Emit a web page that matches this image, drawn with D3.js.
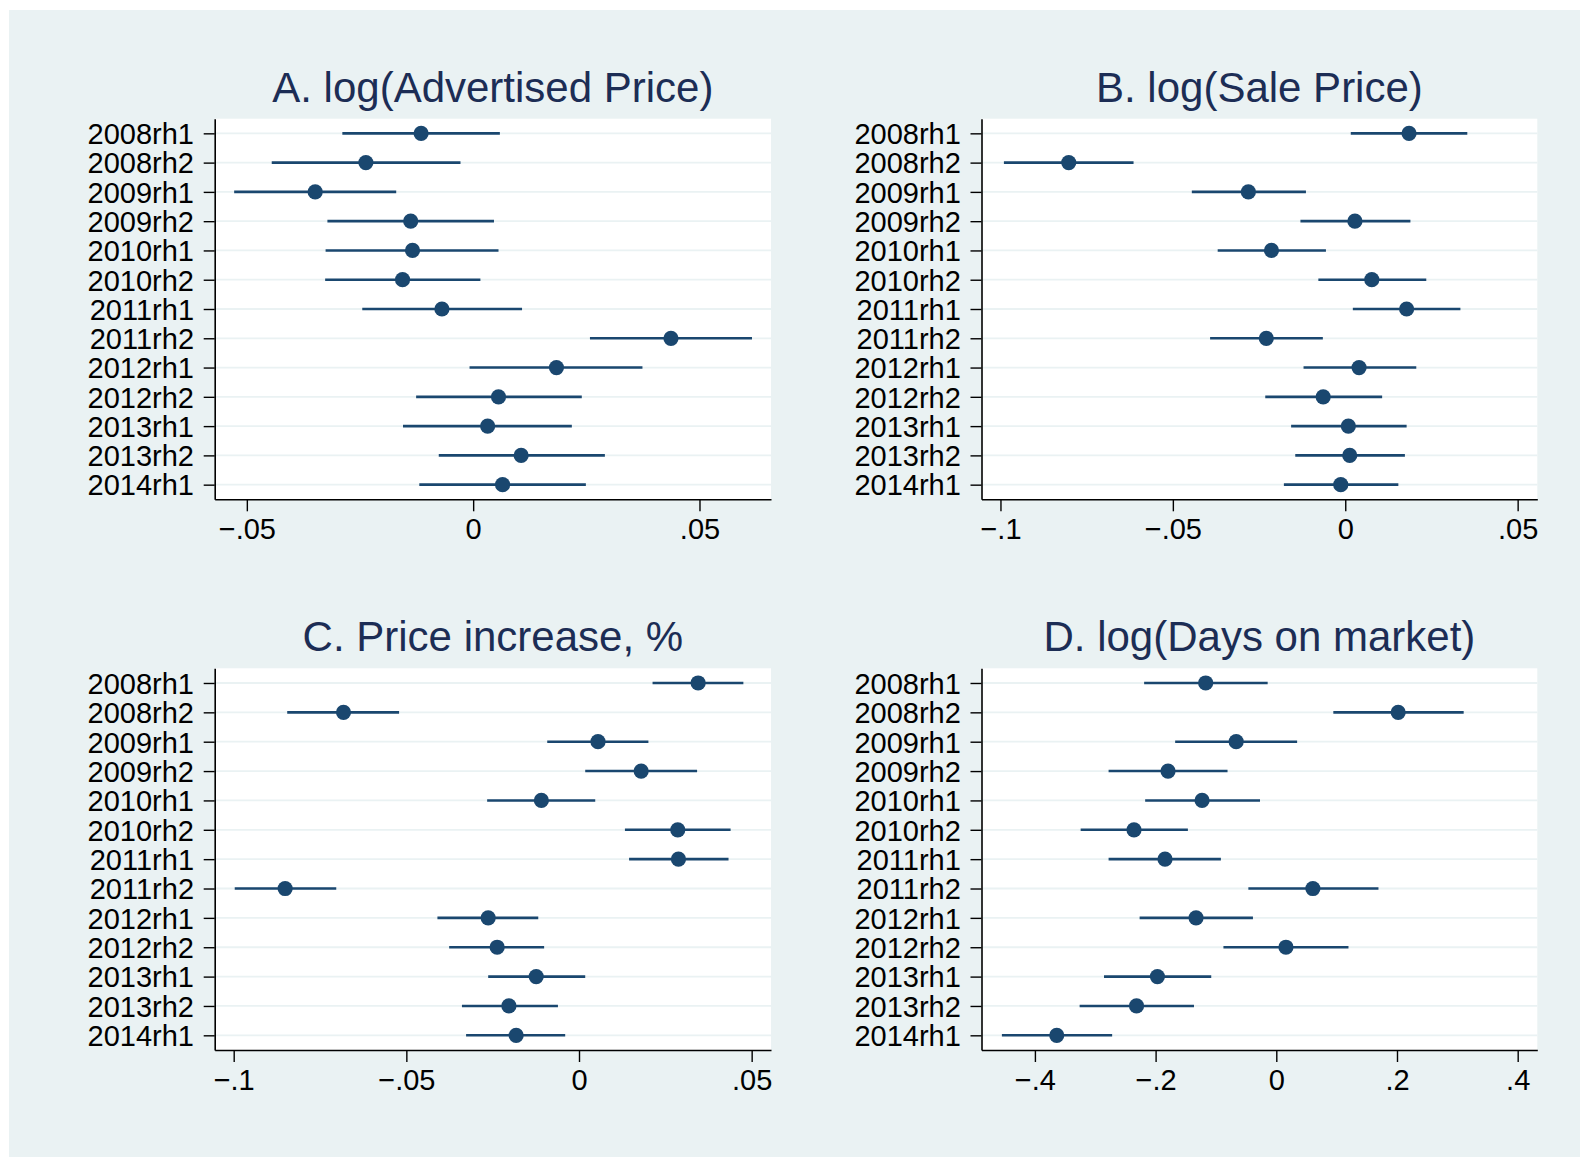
<!DOCTYPE html>
<html>
<head>
<meta charset="utf-8">
<script src="https://cdn.jsdelivr.net/npm/d3@7"></script>
<style>
  body { margin: 0; background: #fff; }
  text { font-family: "Liberation Sans", Arial, sans-serif; }
</style>
</head>
<body>
<div id="chart"></div>
<script>
// half-year periods (rows, top to bottom)
const periods = ["2008rh1", "2008rh2", "2009rh1", "2009rh2", "2010rh1", "2010rh2", "2011rh1",
                 "2011rh2", "2012rh1", "2012rh2", "2013rh1", "2013rh2", "2014rh1"];

// A. log(Advertised Price)
const advEst  = [-0.0115, -0.0237, -0.0349, -0.0138, -0.0134, -0.0156, -0.0069, 0.0437, 0.0184, 0.0056, 0.0032, 0.0106, 0.0065];
const advLow  = [-0.0289, -0.0445, -0.0528, -0.0322, -0.0326, -0.0327, -0.0245, 0.0258, -0.0008, -0.0126, -0.0155, -0.0076, -0.0119];
const advHigh = [0.0059, -0.0028, -0.0170, 0.0046, 0.0056, 0.0016, 0.0108, 0.0616, 0.0374, 0.0240, 0.0218, 0.0291, 0.0249];
const advTicks = [-0.05, 0, 0.05];

// B. log(Sale Price)
const saleEst  = [0.0185, -0.0802, -0.0281, 0.0028, -0.0214, 0.0077, 0.0178, -0.0229, 0.0040, -0.0064, 0.0009, 0.0013, -0.0013];
const saleLow  = [0.0016, -0.0990, -0.0445, -0.0130, -0.0370, -0.0078, 0.0022, -0.0392, -0.0121, -0.0232, -0.0157, -0.0145, -0.0178];
const saleHigh = [0.0354, -0.0614, -0.0114, 0.0189, -0.0056, 0.0235, 0.0334, -0.0065, 0.0206, 0.0107, 0.0178, 0.0173, 0.0154];
const saleTicks = [-0.1, -0.05, 0, 0.05];

// C. Price increase, %
const incEst  = [0.0345, -0.0682, 0.0055, 0.0180, -0.0109, 0.0286, 0.0288, -0.0851, -0.0263, -0.0237, -0.0124, -0.0203, -0.0182];
const incLow  = [0.0213, -0.0845, -0.0092, 0.0018, -0.0266, 0.0133, 0.0145, -0.0997, -0.0410, -0.0376, -0.0263, -0.0339, -0.0327];
const incHigh = [0.0476, -0.0521, 0.0201, 0.0342, 0.0047, 0.0439, 0.0433, -0.0703, -0.0118, -0.0101, 0.0018, -0.0061, -0.0040];
const incTicks = [-0.1, -0.05, 0, 0.05];

// D. log(Days on market)
const domEst  = [-0.117, 0.202, -0.0665, -0.1794, -0.123, -0.2358, -0.1844, 0.0606, -0.133, 0.016, -0.197, -0.2316, -0.3638];
const domLow  = [-0.219, 0.0945, -0.1676, -0.2779, -0.2173, -0.3242, -0.2779, -0.0463, -0.2265, -0.0876, -0.2855, -0.3259, -0.4547];
const domHigh = [-0.0143, 0.3105, 0.0345, -0.0808, -0.027, -0.1465, -0.0918, 0.1693, -0.0387, 0.1196, -0.1078, -0.1364, -0.272];
const domTicks = [-0.4, -0.2, 0, 0.2, 0.4];

const width = 1580, height = 1157;
const bg = "#eaf2f3", navy = "#1a476f", titleColor = "#1c2d55";

const svg = d3.select("#chart")
    .append("svg")
    .attr("width", width)
    .attr("height", height);

svg.append("rect")
    .attr("x", 9).attr("y", 10)
    .attr("width", width - 9).attr("height", height - 10)
    .attr("fill", bg);

const panels = [
    { title: "A. log(Advertised Price)", est: advEst, low: advLow, high: advHigh, ticks: advTicks,
      domain: [-0.0571, 0.0658], x0: 214.7, x1: 771, y0: 118.7, y1: 499.3 },
    { title: "B. log(Sale Price)", est: saleEst, low: saleLow, high: saleHigh, ticks: saleTicks,
      domain: [-0.1055, 0.0557], x0: 981.5, x1: 1537.3, y0: 118.7, y1: 499.3 },
    { title: "C. Price increase, %", est: incEst, low: incLow, high: incHigh, ticks: incTicks,
      domain: [-0.1055, 0.0556], x0: 214.7, x1: 771, y0: 668.3, y1: 1050 },
    { title: "D. log(Days on market)", est: domEst, low: domLow, high: domHigh, ticks: domTicks,
      domain: [-0.4885, 0.4325], x0: 981.5, x1: 1537.3, y0: 668.3, y1: 1050 },
];

// Stata style numbers: -.05, 0, .2
const fmt = (d) => d === 0 ? "0" : (d < 0 ? "\u2212" : "") + String(Math.abs(d)).replace(/^0/, "");

panels.forEach((p) => {
    const x = d3.scaleLinear().domain(p.domain).range([p.x0, p.x1]);
    const y = d3.scalePoint().domain(periods).range([p.y0, p.y1]).padding(0.5);

    const g = svg.append("g");

    g.append("rect")
        .attr("x", p.x0).attr("y", p.y0)
        .attr("width", p.x1 - p.x0).attr("height", p.y1 - p.y0)
        .attr("fill", "#fff");

    // grid lines
    g.selectAll(".grid")
        .data(periods)
        .enter()
        .append("line")
        .attr("x1", p.x0).attr("x2", p.x1)
        .attr("y1", (d) => y(d)).attr("y2", (d) => y(d))
        .attr("stroke", bg)
        .attr("stroke-width", 1.8);

    // confidence intervals
    g.selectAll(".ci")
        .data(periods)
        .enter()
        .append("line")
        .attr("x1", (d, i) => x(p.low[i]))
        .attr("x2", (d, i) => x(p.high[i]))
        .attr("y1", (d) => y(d)).attr("y2", (d) => y(d))
        .attr("stroke", navy)
        .attr("stroke-width", 2.6);

    // point estimates
    g.selectAll(".dot")
        .data(periods)
        .enter()
        .append("circle")
        .attr("cx", (d, i) => x(p.est[i]))
        .attr("cy", (d) => y(d))
        .attr("r", 7.6)
        .attr("fill", navy);

    // y axis
    const yAxis = g.append("g")
        .attr("transform", `translate(${p.x0},0)`)
        .call(d3.axisLeft(y).tickSize(11).tickSizeOuter(0).tickPadding(9.7));
    yAxis.select(".domain").attr("stroke", "#000").attr("stroke-width", 1.6);
    yAxis.selectAll(".tick line").attr("stroke", "#000").attr("stroke-width", 1.4);
    yAxis.selectAll(".tick text")
        .attr("fill", "#000")
        .style("font-size", "29px")
        .attr("dy", "0.355em");

    // x axis
    const xAxis = g.append("g")
        .attr("transform", `translate(0,${p.y1})`)
        .call(d3.axisBottom(x).tickValues(p.ticks).tickFormat(fmt).tickSize(12).tickSizeOuter(0));
    xAxis.select(".domain").attr("stroke", "#000").attr("stroke-width", 1.6);
    xAxis.selectAll(".tick line").attr("stroke", "#000").attr("stroke-width", 1.4);
    xAxis.selectAll(".tick text")
        .attr("fill", "#000")
        .style("font-size", "29px")
        .attr("y", 40)
        .attr("dy", 0);

    // panel title
    g.append("text")
        .attr("x", (p.x0 + p.x1) / 2)
        .attr("y", p.y0 - 17)
        .attr("text-anchor", "middle")
        .attr("fill", titleColor)
        .style("font-size", "42px")
        .text(p.title);
});
</script>
</body>
</html>
